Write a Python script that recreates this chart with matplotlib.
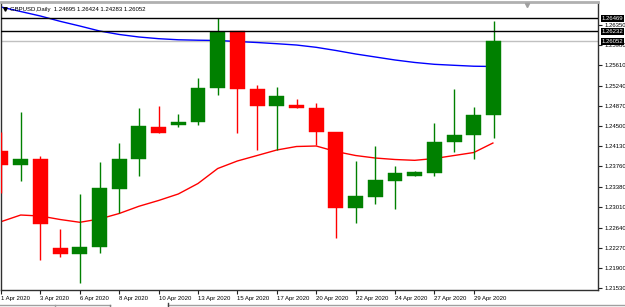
import matplotlib
matplotlib.use("Agg")
import matplotlib.pyplot as plt
from matplotlib import font_manager
from matplotlib.lines import Line2D
from matplotlib.transforms import blended_transform_factory
import numpy as np

# ---------------- data ----------------
dates = ["1 Apr", "2 Apr", "3 Apr", "5 Apr", "6 Apr", "7 Apr", "8 Apr", "9 Apr",
         "10 Apr", "12 Apr", "13 Apr", "14 Apr", "15 Apr", "16 Apr", "17 Apr",
         "19 Apr", "20 Apr", "21 Apr", "22 Apr", "23 Apr", "24 Apr", "26 Apr",
         "27 Apr", "28 Apr", "29 Apr", "30 Apr"]
opens = [1.24048, 1.23786, 1.23896, 1.22262, 1.22158, 1.22291, 1.23347, 1.23896,
         1.24487, 1.24518, 1.24568, 1.25190, 1.26239, 1.25172, 1.24866, 1.24884,
         1.24835, 1.24396, 1.22994, 1.23206, 1.23499, 1.23585, 1.23645, 1.24202,
         1.24335, 1.24695]
highs = [1.24396, 1.24751, 1.23951, 1.22615, 1.23256, 1.23836, 1.24194, 1.24824,
         1.24866, 1.24720, 1.25378, 1.26469, 1.26239, 1.25250, 1.25219, 1.24989,
         1.24916, 1.24396, 1.23860, 1.24140, 1.23774, 1.23682, 1.24550, 1.25177,
         1.24853, 1.26424]
lows = [1.23274, 1.23494, 1.22048, 1.22097, 1.21622, 1.22171, 1.22903, 1.23591,
        1.24372, 1.24487, 1.24518, 1.25067, 1.24367, 1.24061, 1.24061, 1.24835,
        1.24152, 1.22456, 1.22730, 1.23067, 1.22976, 1.23585, 1.23585, 1.24030,
        1.23891, 1.24283]
closes = [1.23786, 1.23896, 1.22701, 1.22158, 1.22291, 1.23360, 1.23896, 1.24500,
          1.24378, 1.24579, 1.25190, 1.26226, 1.25172, 1.24866, 1.25049, 1.24835,
          1.24396, 1.22994, 1.23219, 1.23512, 1.23635, 1.23664, 1.24213, 1.24335,
          1.24701, 1.26052]
ma_blue = [1.26678, 1.26595, 1.26513, 1.26416, 1.26330, 1.26239, 1.26175, 1.26129,
           1.26098, 1.26078, 1.26070, 1.26065, 1.26046, 1.26028, 1.26006, 1.25982,
           1.25940, 1.25882, 1.25818, 1.25763, 1.25708, 1.25663, 1.25629, 1.25611,
           1.25594, 1.25589]
ma_red = [1.22749, 1.22871, 1.22853, 1.22789, 1.22738, 1.22798, 1.22899, 1.23031,
          1.23137, 1.23256, 1.23448, 1.23722, 1.23860, 1.23960, 1.24061, 1.24125,
          1.24134, 1.24033, 1.23960, 1.23914, 1.23887, 1.23872, 1.23905, 1.23960,
          1.24015, 1.24194]
price_ticks = [1.21530, 1.21900, 1.22270, 1.22640, 1.23010, 1.23380, 1.23760,
               1.24130, 1.24500, 1.24870, 1.25240, 1.25610, 1.25980, 1.26350]
level_lines = [1.26469, 1.26232]
bid_price = 1.26052
header = "GBPUSD,Daily  1.24695 1.26424 1.24283 1.26052"
year = "2020"

# ---------------- style ----------------
names = {f.name for f in font_manager.fontManager.ttflist}
FONT = "Liberation Sans" if "Liberation Sans" in names else "DejaVu Sans"
plt.rcParams['font.family'] = [FONT, 'DejaVu Sans']
FS = 4.3
GREEN = "#008000"
RED = "#ff0000"

W, H = 625, 307
fig = plt.figure(figsize=(W / 100, H / 100), dpi=100)
fig.patch.set_facecolor("white")
ax_l, ax_r, ax_t, ax_b = 1, 598, 2, 290
ax = fig.add_axes([ax_l / W, (H - ax_b) / H, (ax_r - ax_l) / W, (ax_b - ax_t) / H])
ax.set_facecolor("white")

x = np.arange(len(dates))
o = np.array(opens); c = np.array(closes)
colors = [GREEN if cc >= oo else RED for oo, cc in zip(o, c)]

ax.plot(x, ma_blue, color="#0000ff", lw=1.0, zorder=2, solid_capstyle="butt")
ax.plot(x, ma_red, color="#ff0000", lw=1.0, zorder=2, solid_capstyle="butt")

ax.vlines(x, lows, highs, colors=colors, lw=1.0, zorder=3)
ax.bar(x, c - o, bottom=o, width=0.76, color=colors, edgecolor=colors,
       linewidth=0.3, zorder=4)

for lv in level_lines:
    ax.axhline(lv, color="black", lw=1.0, zorder=5)
ax.axhline(bid_price, color="#c0c0c0", lw=1.0, zorder=1)

px_per_bar = 19.7
ax.set_xlim(0, (ax_r - ax_l) / px_per_bar)
ppx = 0.000183
ax.set_ylim(1.21530 - (ax_b - 288.3) * ppx, 1.21530 + (288.3 - ax_t) * ppx)

# x ticks
xt = x[:-1:2]
ax.set_xticks(xt)
ax.set_xticklabels([f"{dates[i]} {year}" for i in xt], ha="left", fontsize=FS)
ax.tick_params(axis="x", length=3, width=0.8, pad=1.2, color="#202020")

# y ticks on right
ax.yaxis.tick_right()
ax.set_yticks(price_ticks)
ax.set_yticklabels([f"{p:.5f}" for p in price_ticks], fontsize=FS)
ax.tick_params(axis="y", length=3, width=0.8, pad=1.5, color="#202020")

for side in ["left", "right", "bottom"]:
    ax.spines[side].set_color("#303030")
    ax.spines[side].set_linewidth(1.0)
ax.spines["top"].set_color("#b0b0b0")
ax.spines["top"].set_linewidth(2.0)

# highlighted price labels
tr = blended_transform_factory(ax.transAxes, ax.transData)
for lv in level_lines + [bid_price]:
    ax.text(1.006, lv, f"{lv:.5f}", transform=tr, fontsize=FS, color="white",
            va="center", ha="left", zorder=10, clip_on=False,
            bbox=dict(boxstyle="square,pad=0.18", fc="black", ec="none"))

# header
ax.text((10 - ax_l) / (ax_r - ax_l), 1 - (9 - ax_t) / (ax_b - ax_t), header,
        transform=ax.transAxes, fontsize=FS, va="center", ha="left", color="black",
        zorder=10)
ax.plot([(4.5 - ax_l) / (ax_r - ax_l)], [1 - (9 - ax_t) / (ax_b - ax_t)],
        marker="v", ms=2.5, color="black", transform=ax.transAxes, clip_on=False,
        zorder=10)
# chart shift marker
ax.plot([(527 - ax_l) / (ax_r - ax_l)], [1 - (4.5 - ax_t) / (ax_b - ax_t)],
        marker="v", ms=3, color="#a0a0a0", transform=ax.transAxes, clip_on=False,
        zorder=10)

# bottom tab bar lines
def fl(x0, y0, x1, y1, col, lw=1.0):
    fig.add_artist(Line2D([x0 / W, x1 / W], [1 - y0 / H, 1 - y1 / H], color=col,
                          lw=lw, transform=fig.transFigure))

fl(0, 304.5, 110, 304.5, "#a0a0a0")
fl(55, 304.5, 55, 307, "#a0a0a0")
fl(110, 304.5, 110, 307, "#808080")
fl(168, 304.5, 625, 304.5, "#a0a0a0")
fl(168, 302.5, 168, 307, "#404040")

fig.savefig("out.png", dpi=100, facecolor="white")
